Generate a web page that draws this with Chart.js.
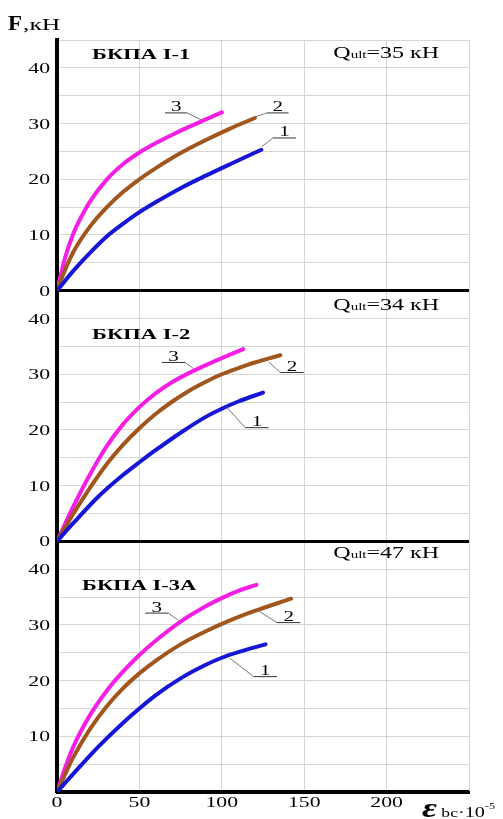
<!DOCTYPE html>
<html><head><meta charset="utf-8">
<script src="https://cdn.jsdelivr.net/npm/chart.js"></script>
<style>html,body{margin:0;padding:0;background:#fff;}#wrap{width:503px;height:819px;}</style>
</head><body><div id="wrap"><canvas id="c" width="503" height="819"></canvas></div>
<script>
// ---------- data ----------
const panelTitles = ['БКПА I-1', 'БКПА I-2', 'БКПА I-3А'];
const ultimateLoads = [35, 34, 47];          // Q_ult, kN
const curveNames = ['1', '2', '3'];
const xTickLabels = ['0', '50', '100', '150', '200'];
const yTickLabels = ['0', '10', '20', '30', '40'];

// Panel 1 (БКПА I-1): strain ε·10^-5 and force F, kN
const p1_x1 = [0, 10, 20, 30, 40, 50, 60, 75, 90, 105, 124];
const p1_y1 = [0, 3.6, 6.8, 9.7, 12, 14.1, 15.9, 18.4, 20.6, 22.7, 25.3];
const p1_x2 = [0, 5, 10, 20, 30, 40, 50, 60, 75, 90, 105, 120];
const p1_y2 = [0, 3.8, 7, 11.5, 14.9, 17.7, 20, 22, 24.7, 27, 29.1, 31];
const p1_x3 = [0, 5, 10, 15, 20, 30, 40, 50, 60, 70, 80, 90, 100];
const p1_y3 = [0, 6, 10.3, 13.4, 16, 19.9, 22.7, 24.8, 26.5, 28, 29.4, 30.7, 32];

// Panel 2 (БКПА I-2)
const p2_x1 = [0, 10, 25, 40, 50, 60, 75, 90, 100, 110, 125];
const p2_y1 = [0, 3.3, 8, 11.9, 14.2, 16.4, 19.5, 22.3, 23.8, 25.1, 26.7];
const p2_x2 = [0, 10, 20, 30, 40, 50, 60, 70, 80, 90, 100, 110, 120, 135.5];
const p2_y2 = [0, 5, 9.6, 13.8, 17.3, 20.3, 22.9, 25.1, 27, 28.6, 30, 31.1, 32.1, 33.4];
const p2_x3 = [0, 10, 20, 30, 40, 50, 60, 70, 80, 90, 100, 113];
const p2_y3 = [0, 6.3, 12, 17, 21, 24.1, 26.6, 28.6, 30.2, 31.6, 32.9, 34.5];

// Panel 3 (БКПА I-3А)
const p3_x1 = [0, 10, 25, 40, 50, 60, 75, 90, 100, 110, 126.5];
const p3_y1 = [0, 3.3, 8.1, 12.4, 15, 17.4, 20.4, 22.8, 24.1, 25.1, 26.5];
const p3_x2 = [0, 10, 20, 30, 40, 50, 60, 75, 90, 105, 120, 142];
const p3_y2 = [0, 6.3, 11.3, 15.3, 18.6, 21.3, 23.6, 26.5, 28.8, 30.8, 32.5, 34.7];
const p3_x3 = [0, 5, 10, 20, 30, 40, 50, 60, 75, 90, 100, 110, 121];
const p3_y3 = [0, 4.4, 8.2, 13.8, 18.1, 21.6, 24.6, 27.2, 30.6, 33.3, 34.8, 36.1, 37.2];

// ---------- build ----------
const panels = [
  { axis: 'y1', curves: [[p1_x1, p1_y1], [p1_x2, p1_y2], [p1_x3, p1_y3]] },
  { axis: 'y2', curves: [[p2_x1, p2_y1], [p2_x2, p2_y2], [p2_x3, p2_y3]] },
  { axis: 'y3', curves: [[p3_x1, p3_y1], [p3_x2, p3_y2], [p3_x3, p3_y3]] }
];
const curveColors = ['#1616d6', '#a0561c', '#f41ee6'];
const datasets = [];
panels.forEach((p, pi) => p.curves.forEach(([xs, ys], ci) => datasets.push({
  label: panelTitles[pi] + ' — ' + curveNames[ci],
  data: xs.map((x, i) => ({ x: x, y: ys[i] })),
  xAxisID: 'x', yAxisID: p.axis,
  borderColor: curveColors[ci], borderWidth: 4, pointRadius: 0,
  cubicInterpolationMode: 'monotone', fill: false, borderCapStyle: 'round'
})));

// callout annotations, in data units of each panel: [name, underline x0, x1, y, leader end x, y, side]
const callouts = [
  { axis: 'y1', items: [['3', 65.6, 79, 32, 88, 30.6], ['2', 127.4, 140.5, 32, 120.3, 31.2, 'l'], ['1', 131, 145, 27.5, 124.4, 25.9, 'l']] },
  { axis: 'y2', items: [['3', 63.6, 77.8, 32.2, 82.8, 31], ['2', 135.5, 149.6, 30.4, 128.4, 32.2, 'l'], ['1', 114.2, 128.4, 20.5, 103, 24.1, 'l']] },
  { axis: 'y3', items: [['3', 53.5, 67.6, 32.2, 73.7, 30.8], ['2', 133.5, 147.6, 30.5, 122.3, 32.5, 'l'], ['1', 119.3, 133.5, 20.8, 105, 24, 'l']] }
];

const SERIF = '"Liberation Serif", "Times New Roman", serif';
function drawParts(ctx, parts, x, y, align, sx) {
  ctx.save();
  let w = 0;
  parts.forEach(p => { ctx.font = p.font; p.w = ctx.measureText(p.t).width; w += p.w; });
  const start = align === 'right' ? x - w * sx : (align === 'center' ? x - w * sx / 2 : x);
  ctx.translate(start, y); ctx.scale(sx, 1);
  ctx.textAlign = 'left'; ctx.textBaseline = 'alphabetic'; ctx.fillStyle = '#000';
  let cx = 0;
  parts.forEach(p => { ctx.font = p.font; ctx.fillText(p.t, cx, p.dy || 0); cx += p.w; });
  ctx.restore();
}

const textPlugin = {
  id: 'texts',
  afterDraw(chart) {
    const ctx = chart.ctx, xs = chart.scales.x;
    const SX = 1.45;
    const tickFont = '15px ' + SERIF;
    // y tick labels
    ['y1', 'y2', 'y3'].forEach((id, pi) => {
      const s = chart.scales[id];
      yTickLabels.forEach(lbl => {
        if (pi === 2 && lbl === '0') return;
        drawParts(ctx, [{ t: lbl, font: tickFont }], s.left + 50, s.getPixelForValue(Number(lbl)) + 5, 'right', SX);
      });
    });
    // x tick labels
    xTickLabels.forEach(lbl => {
      drawParts(ctx, [{ t: lbl, font: tickFont }], xs.getPixelForValue(Number(lbl)), xs.top + 15, 'center', SX);
    });
    // axis titles
    drawParts(ctx, [{ t: 'F', font: 'bold 20px ' + SERIF }], 8, 30, 'left', 1.15);
    drawParts(ctx, [{ t: ',кН', font: '16px ' + SERIF }], 23, 30, 'left', 1.6);
    drawParts(ctx, [
      { t: 'ε', font: 'bold italic 27px ' + SERIF },
      { t: ' bc', font: '13px ' + SERIF },
      { t: '·10', font: '15px ' + SERIF },
      { t: '-5', font: '9px ' + SERIF, dy: -8 }
    ], xs.getPixelForValue(221.5), xs.top + 25, 'left', 1.35);
    // panel titles & Q_ult
    const titlePos = [[21.3, 41.5], [21.3, 36.4], [15.2, 36.3]];
    const qPos = [[167.7, 41.8], [167.7, 41.5], [167.7, 42.0]];
    ['y1', 'y2', 'y3'].forEach((id, pi) => {
      const s = chart.scales[id];
      drawParts(ctx, [{ t: panelTitles[pi], font: 'bold 15px ' + SERIF }],
        xs.getPixelForValue(titlePos[pi][0]), s.getPixelForValue(titlePos[pi][1]), 'left', 1.5);
      drawParts(ctx, [
        { t: 'Q', font: '16px ' + SERIF },
        { t: 'ult', font: '10px ' + SERIF },
        { t: '=' + ultimateLoads[pi] + ' кН', font: '16px ' + SERIF }
      ], xs.getPixelForValue(qPos[pi][0]), s.getPixelForValue(qPos[pi][1]), 'left', 1.5);
    });
    // callouts
    callouts.forEach(c => {
      const s = chart.scales[c.axis];
      c.items.forEach(it => {
        const [name, u0, u1, uy, lx, ly, side] = it;
        const X0 = xs.getPixelForValue(u0), X1 = xs.getPixelForValue(u1), Y = s.getPixelForValue(uy);
        const LX = xs.getPixelForValue(lx), LY = s.getPixelForValue(ly);
        ctx.save();
        ctx.strokeStyle = '#333'; ctx.lineWidth = 1;
        ctx.beginPath(); ctx.moveTo(X0, Y + 0.5); ctx.lineTo(X1, Y + 0.5); ctx.stroke();
        ctx.strokeStyle = '#777';
        ctx.beginPath(); ctx.moveTo(side === 'l' ? X0 : X1, Y + 0.5); ctx.lineTo(LX, LY); ctx.stroke();
        ctx.restore();
        drawParts(ctx, [{ t: name, font: '15px ' + SERIF }], (X0 + X1) / 2, Y - 1, 'center', 1.4);
      });
    });
  }
};

const GRID = '#d6d6d6';
function yScale(id, isTop) {
  return {
    type: 'linear', position: 'left', stack: 'panels', stackWeight: 1,
    min: 0, max: 45,
    ticks: { stepSize: 5, display: false },
    grid: {
      drawTicks: false,
      color: c => c.tick.value === 0 ? '#000' : (c.tick.value === 45 && !isTop ? 'rgba(0,0,0,0)' : GRID),
      lineWidth: c => c.tick.value === 0 ? 3 : 1
    },
    border: { display: true, color: '#000', width: 4 },
    afterFit: s => { s.width = 57; }
  };
}

new Chart(document.getElementById('c'), {
  type: 'line',
  data: { datasets: datasets },
  options: {
    responsive: false, animation: false,
    layout: { padding: { top: 40, right: 34, left: 0, bottom: 0 } },
    plugins: { legend: { display: false }, tooltip: { enabled: false } },
    scales: {
      x: {
        type: 'linear', min: 0, max: 250,
        ticks: { stepSize: 50, display: false },
        grid: { drawTicks: false, color: GRID, lineWidth: 1 },
        border: { display: true, color: '#000', width: 3 },
        afterFit: s => { s.height = 27; }
      },
      y3: yScale('y3', false),
      y2: yScale('y2', false),
      y1: yScale('y1', true)
    }
  },
  plugins: [textPlugin]
});
</script>
</body></html>
